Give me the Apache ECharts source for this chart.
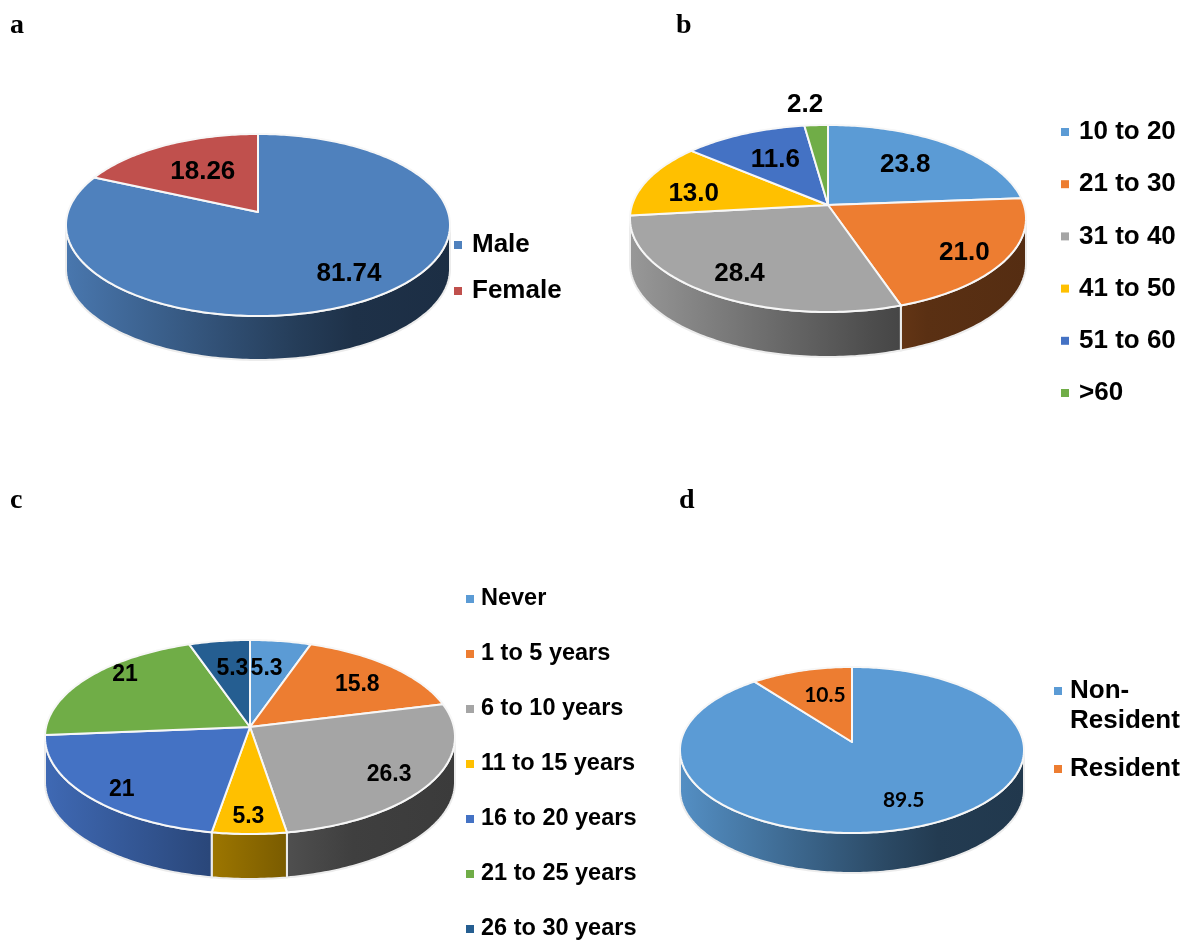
<!DOCTYPE html>
<html><head><meta charset="utf-8">
<style>html,body{margin:0;padding:0;background:#fff}#c{width:1184px;height:941px}</style>
<script src="https://cdn.jsdelivr.net/npm/echarts@6/dist/echarts.min.js"></script>
</head><body><div id="c"></div>
<script>
// ---- data ----
var genderNames = ['Male','Female'];
var genderValues = [81.74,18.26];
var genderLabels = ['81.74','18.26'];
var ageNames = ['10 to 20','21 to 30','31 to 40','41 to 50','51 to 60','>60'];
var ageValues = [23.8,21.0,28.4,13.0,11.6,2.2];
var ageLabels = ['23.8','21.0','28.4','13.0','11.6','2.2'];
var expNames = ['Never','1 to 5 years','6 to 10 years','11 to 15 years','16 to 20 years','21 to 25 years','26 to 30 years'];
var expValues = [5.3,15.8,26.3,5.3,21,21,5.3];
var expLabels = ['5.3','15.8','26.3','5.3','21','21','5.3'];
var resNames = ['Non-\nResident','Resident'];
var resValues = [89.5,10.5];
var resLabels = ['89.5','10.5'];

// ---- layout and style ----
var officeColors = ['#5b9bd5','#ed7d31','#a5a5a5','#ffc000','#4472c4','#70ad47','#255e91'];
var pies = [
 {names:genderNames,values:genderValues,labels:genderLabels,colors:['#4f81bd','#c0504d'],
  cx:258,cy:212,rx:192,top:78,bottom:104,depth:44,font:'Liberation Sans',size:26,
  lab:[[.75,6,0],[.55,-2,-2]]},
 {names:ageNames,values:ageValues,labels:ageLabels,colors:officeColors,
  cx:828,cy:205,rx:198,top:80,bottom:107,depth:45,font:'Liberation Sans',size:26,
  lab:[[.8,-21,9],[.75,6,8],[.78,2,2],[.75,2,8],[.65,4,3],[1.3,-8,0]]},
 {names:expNames,values:expValues,labels:expLabels,colors:officeColors,
  cx:250,cy:727,rx:205,top:87,bottom:107,depth:45,font:'Liberation Sans',size:23,
  lab:[[.65,-4,-1],[.78,-4,6],[.78,0,5],[.85,-1,0],[.87,11,3],[.75,-2,-15],[.65,3,-1]]},
 {names:resNames,values:resValues,labels:resLabels,colors:['#5b9bd5','#ed7d31'],
  cx:852,cy:742,rx:172,top:75,bottom:91,depth:40,font:'Lato',size:21,
  lab:[[.75,7,-4],[.55,2,-6]]}
];
var shadeStops = [[0,.92],[.4,.62],[.6,.47],[.75,.38],[1,.36]];

function shade(hex,m){
  var n=parseInt(hex.slice(1),16);
  return 'rgb('+[n>>16&255,n>>8&255,n&255].map(function(c){return Math.round(c*m)}).join(',')+')';
}
function projector(p){
  var k=(p.bottom-p.top)/(p.bottom+p.top);
  var S=2*p.top*p.bottom/(p.top+p.bottom);
  var R=p.rx*Math.sqrt(1-k*k);
  return {k:k,at:function(deg,f){
    var t=deg*Math.PI/180,u=Math.sin(t)*f,v=-Math.cos(t)*f,w=1-k*v;
    return [p.cx+R*u/w,p.cy+S*v/w];
  }};
}
function arc(pr,a0,a1){
  var n=Math.max(2,Math.ceil((a1-a0)/1)),pts=[];
  for(var i=0;i<=n;i++)pts.push(pr.at(a0+(a1-a0)*i/n,1));
  return pts;
}
function makeRender(p,idx,total){
  var pr=projector(p),color=p.colors[idx];
  return function(params,api){
    var a0=api.value(0)/total*360,a1=a0+api.value(1)/total*360,kids=[];
    var vis0=Math.acos(-pr.k)*180/Math.PI,vis1=360-vis0;
    var w0=Math.max(a0,vis0),w1=Math.min(a1,vis1);
    if(w1>w0){
      var rim=arc(pr,w0,w1);
      var low=rim.map(function(q){return [q[0],q[1]+p.depth]}).reverse();
      kids.push({type:'polygon',z2:1,shape:{points:rim.concat(low)},style:{
        fill:{type:'linear',global:true,x:p.cx-p.rx,y:0,x2:p.cx+p.rx,y:0,
          colorStops:shadeStops.map(function(s){return {offset:s[0],color:shade(color,s[1])}})},
        stroke:'#ececec',lineWidth:2}});
    }
    var top=[[p.cx,p.cy]].concat(arc(pr,a0,a1));
    kids.push({type:'polygon',z2:3,shape:{points:top},style:{fill:color,stroke:'#f7f7f7',lineWidth:2,lineJoin:'round'}});
    var l=p.lab[idx],c=pr.at((a0+a1)/2,l[0]);
    kids.push({type:'text',z2:10,style:{text:p.labels[idx],x:c[0]+l[1],y:c[1]+l[2],align:'center',verticalAlign:'middle',
      fill:'#000',fontFamily:p.font,fontWeight:'bold',fontSize:p.size}});
    return {type:'group',children:kids};
  };
}
var series=[];
pies.forEach(function(p){
  var total=p.values.reduce(function(a,b){return a+b},0),cum=0;
  p.values.forEach(function(v,i){
    series.push({type:'custom',name:p.names[i],coordinateSystem:'none',silent:true,animation:false,
      itemStyle:{color:p.colors[i]},data:[[cum,v]],renderItem:makeRender(p,i,total)});
    cum+=v;
  });
});
function legend(names,left,top,size,line,gap,pad){
  return {orient:'vertical',left:left,top:top,height:600,padding:0,data:names,icon:'rect',itemWidth:8,itemHeight:8,itemGap:gap,
    selectedMode:false,
    // a blank first line keeps the marker of a two-line entry beside its first line
    formatter:function(n){return n.indexOf('\n')>=0?' \n'+n:n;},
    textStyle:{fontFamily:'Liberation Sans',fontWeight:'bold',fontSize:size,lineHeight:line,color:'#000',padding:[0,0,0,pad]}};
}
function letter(t,x,y){
  return {text:t,left:x,top:y,padding:0,textStyle:{fontFamily:'Liberation Serif',fontWeight:'bold',fontSize:28,color:'#000'}};
}
echarts.init(document.getElementById('c'),null,{renderer:'canvas'}).setOption({
  backgroundColor:'#fff',animation:false,
  title:[letter('a',10,12),letter('b',676,12),letter('c',10,487),letter('d',679,487)],
  legend:[legend(genderNames,454,229,26,32,14,5),legend(ageNames,1061,116,26,32,20.2,5),
          legend(expNames,466,587,23.5,22,31,2),legend(resNames,1054,646,26,30,18,3)],
  series:series
});
</script></body></html>
